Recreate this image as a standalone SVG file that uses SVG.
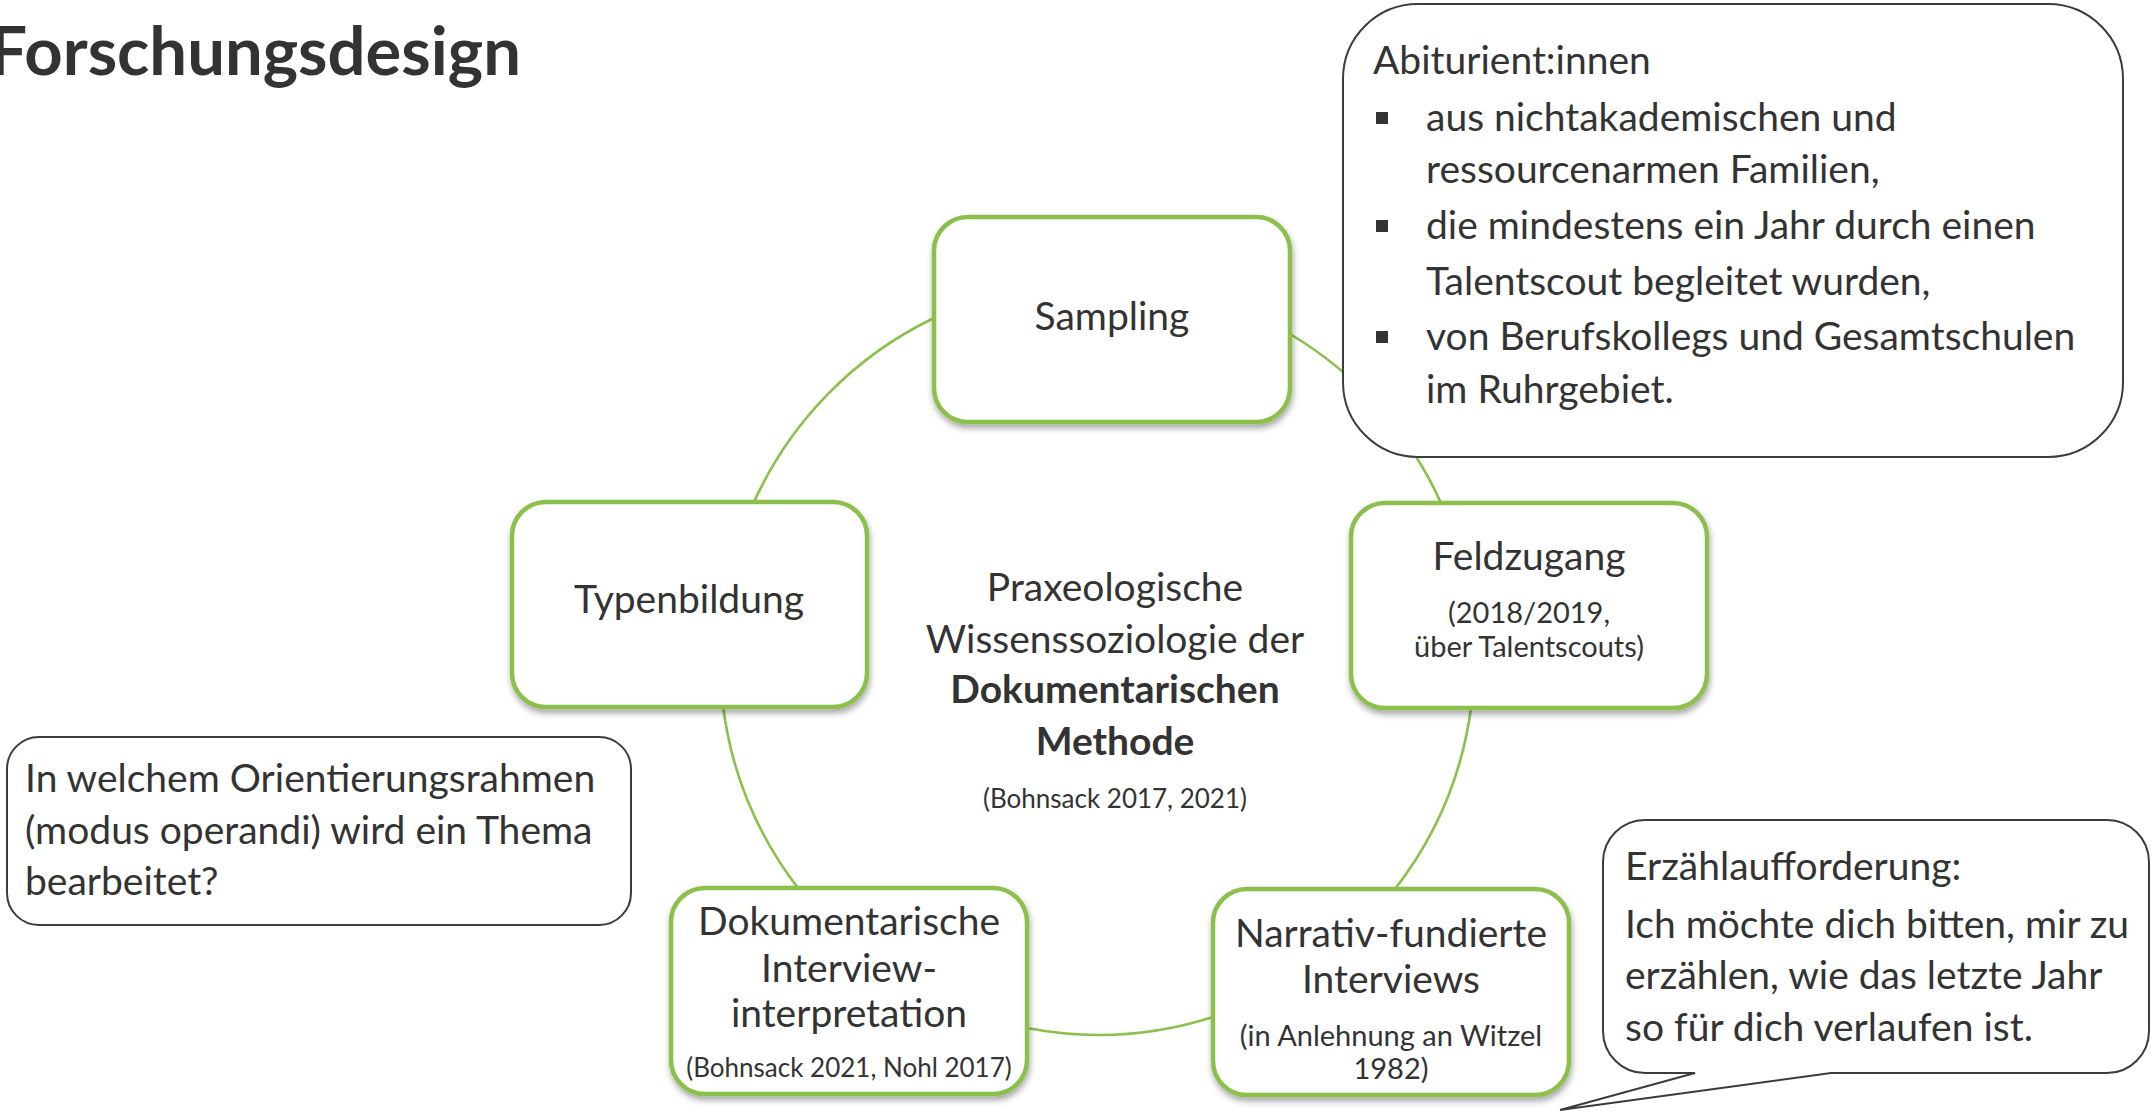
<svg xmlns="http://www.w3.org/2000/svg" width="2151" height="1115" viewBox="0 0 2151 1115">
<defs>
<style>
text{font-family:Lato,"Liberation Sans",sans-serif;fill:#333333}
.t{font-size:39px}
.s{font-size:29px}
.xs{font-size:26px}
.b{font-weight:bold}
.m{text-anchor:middle}
.node{fill:#ffffff;stroke:#8CBF4C;stroke-width:4.5;filter:url(#sh)}
.arc{fill:none;stroke:#8CBF4C;stroke-width:2.6}
.call{fill:#ffffff;stroke:#3c3c3c;stroke-width:2}
.bul{fill:#333333}
</style>
<filter id="sh" x="-10%" y="-10%" width="125%" height="130%">
<feDropShadow dx="1" dy="4" stdDeviation="3" flood-color="#000000" flood-opacity="0.35"/>
</filter>
</defs>
<rect width="2151" height="1115" fill="#ffffff"/>

<text id="title" x="521" y="75" class="b" style="font-size:67px;text-anchor:end">Forschungsdesign</text>

<g id="connectors">
<path class="arc" d="M1290,334 A377,377 0 0 1 1441,503"/>
<path class="arc" d="M1471,708 A377,377 0 0 1 1395,889"/>
<path class="arc" d="M1213,1017 A377,377 0 0 1 1027,1028"/>
<path class="arc" d="M798,888 A377,377 0 0 1 723,706"/>
<path class="arc" d="M754,502 A377,377 0 0 1 934,318"/>
</g>

<g id="center">
<text class="t m" x="1115" y="601">Praxeologische</text>
<text class="t m" x="1115" y="653">Wissenssoziologie der</text>
<text class="t m b" x="1115" y="703">Dokumentarischen</text>
<text class="t m b" x="1115" y="755">Methode</text>
<text class="xs m" x="1115" y="808">(Bohnsack 2017, 2021)</text>
</g>

<g id="sampling">
<rect class="node" x="934" y="217" width="356" height="205" rx="34"/>
<text class="t m" x="1112" y="330">Sampling</text>
</g>

<g id="feldzugang">
<rect class="node" x="1351" y="503" width="356" height="205" rx="34"/>
<text class="t m" x="1529" y="570">Feldzugang</text>
<text class="s m" x="1529" y="623">(2018/2019,</text>
<text class="s m" x="1529" y="657">über Talentscouts)</text>
</g>

<g id="narrativ">
<rect class="node" x="1213" y="889" width="356" height="206" rx="34"/>
<text class="t m" x="1391" y="947">Narrativ-fundierte</text>
<text class="t m" x="1391" y="993">Interviews</text>
<text class="s m" x="1391" y="1046">(in Anlehnung an Witzel</text>
<text class="s m" x="1391" y="1079">1982)</text>
</g>

<g id="dokumentarische">
<rect class="node" x="671" y="888" width="356" height="206" rx="34"/>
<text class="t m" x="849" y="935">Dokumentarische</text>
<text class="t m" x="849" y="982">Interview-</text>
<text class="t m" x="849" y="1027">interpretation</text>
<text class="xs m" x="849" y="1077">(Bohnsack 2021, Nohl 2017)</text>
</g>

<g id="typenbildung">
<rect class="node" x="512" y="502" width="355" height="205" rx="34"/>
<text class="t m" x="689" y="613">Typenbildung</text>
</g>

<g id="abiturient">
<rect class="call" x="1343" y="4" width="780" height="453" rx="75"/>
<text class="t" x="1373" y="74">Abiturient:innen</text>
<rect class="bul" x="1376" y="112" width="12" height="12"/>
<text class="t" x="1426" y="131">aus nichtakademischen und</text>
<text class="t" x="1426" y="183">ressourcenarmen Familien,</text>
<rect class="bul" x="1376" y="220" width="12" height="12"/>
<text class="t" x="1426" y="239">die mindestens ein Jahr durch einen</text>
<text class="t" x="1426" y="295">Talentscout begleitet wurden,</text>
<rect class="bul" x="1376" y="331" width="12" height="12"/>
<text class="t" x="1426" y="350">von Berufskollegs und Gesamtschulen</text>
<text class="t" x="1426" y="403">im Ruhrgebiet.</text>
</g>

<g id="orientierung">
<rect class="call" x="7" y="737" width="624" height="188" rx="32"/>
<text class="t" x="25" y="792">In welchem Orientierungsrahmen</text>
<text class="t" x="25" y="844">(modus operandi) wird ein Thema</text>
<text class="t" x="25" y="895">bearbeitet?</text>
</g>

<g id="erzaehl">
<path class="call" d="M1645,820 H2107 A42,42 0 0 1 2149,862 V1031 A42,42 0 0 1 2107,1073 H1831 L1560,1110 L1695,1073 H1645 A42,42 0 0 1 1603,1031 V862 A42,42 0 0 1 1645,820 Z"/>
<text class="t" x="1625" y="880">Erzählaufforderung:</text>
<text class="t" x="1625" y="938">Ich möchte dich bitten, mir zu</text>
<text class="t" x="1625" y="989">erzählen, wie das letzte Jahr</text>
<text class="t" x="1625" y="1041">so für dich verlaufen ist.</text>
</g>
</svg>
